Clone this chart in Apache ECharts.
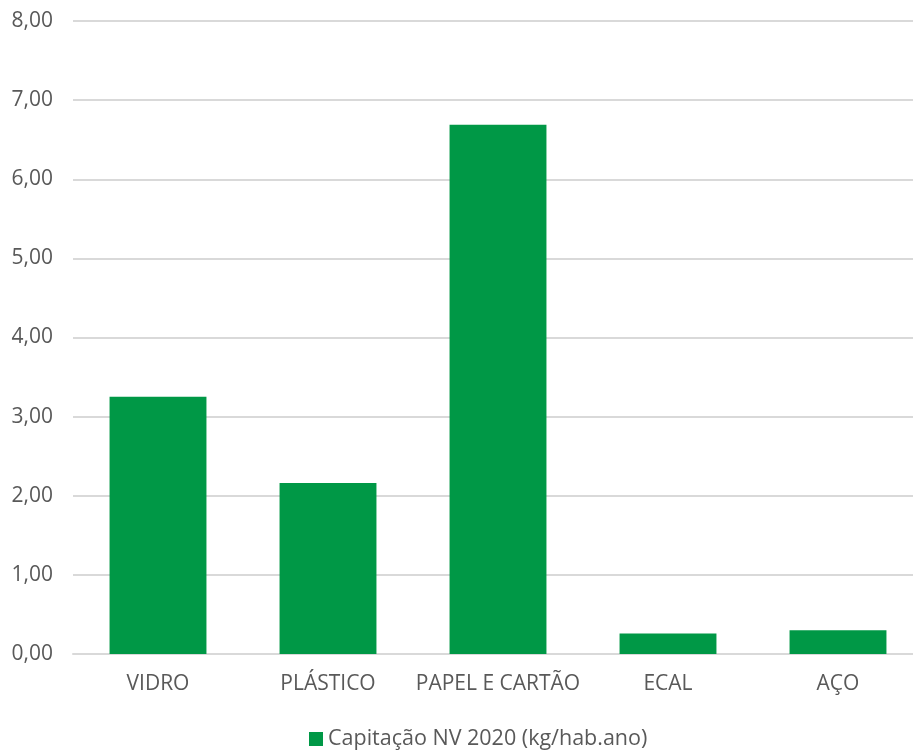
<!DOCTYPE html>
<html><head><meta charset="utf-8">
<script src="https://cdn.jsdelivr.net/npm/echarts@6/dist/echarts.min.js"></script>
<style>html,body{margin:0;padding:0;background:#fff;overflow:hidden}#c{width:913px;height:751px}</style>
</head><body><div id="c"></div>
<script>
var categories = ['VIDRO', 'PLÁSTICO', 'PAPEL E CARTÃO', 'ECAL', 'AÇO'];
var values = [3.25, 2.16, 6.69, 0.26, 0.30];
var seriesName = 'Capitação NV 2020 (kg/hab.ano)';
var chart = echarts.init(document.getElementById('c'));
chart.setOption({
  animation: false,
  textStyle: {fontFamily: 'Open Sans'},
  grid: {left: 73, width: 850, top: 21, bottom: 97, containLabel: false, outerBoundsMode: 'none'},
  legend: {
    top: 721, left: 304, itemWidth: 14, itemHeight: 14, itemGap: 5,
    icon: 'rect',
    textStyle: {color: '#595959', fontSize: 21.5, fontFamily: 'Open Sans', lineHeight: 26},
    data: [seriesName]
  },
  xAxis: {
    type: 'category', data: categories,
    axisLine: {show: true, lineStyle: {color: '#d9d9d9', width: 2}},
    axisTick: {show: false},
    axisLabel: {color: '#595959', fontSize: 21, margin: 20, interval: 0}
  },
  yAxis: {
    type: 'value', min: 0, max: 8, interval: 1,
    axisLine: {show: false}, axisTick: {show: false},
    splitLine: {lineStyle: {color: '#d9d9d9', width: 2}},
    axisLabel: {color: '#595959', fontSize: 21, margin: 20,
      formatter: function(v){ return v.toFixed(2).replace('.', ','); }}
  },
  series: [{
    name: seriesName, type: 'bar', data: values, barWidth: '57%',
    itemStyle: {color: '#009846'}
  }]
});
</script></body></html>
